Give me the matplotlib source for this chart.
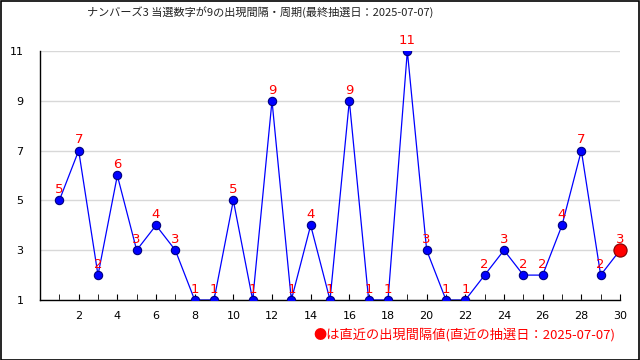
import matplotlib
matplotlib.use("Agg")
import matplotlib.pyplot as plt
from matplotlib.patches import Rectangle

plt.rcParams['font.family'] = ['Noto Sans CJK JP', 'DejaVu Sans']

draws = list(range(1, 31))
intervals = [5, 7, 2, 6, 3, 4, 3, 1, 1, 5, 1, 9, 1, 4, 1, 9, 1, 1, 11, 3, 1, 1, 2, 3, 2, 2, 4, 7, 2, 3]
title = "ナンバーズ3 当選数字が9の出現間隔・周期(最終抽選日：2025-07-07)"
note = "●は直近の出現間隔値(直近の抽選日：2025-07-07)"

fig = plt.figure(figsize=(6.4, 3.6), dpi=100)
fig.patches.append(Rectangle((0.001, 0.001), 0.997, 0.996, transform=fig.transFigure,
                             fill=False, edgecolor='black', linewidth=1.2))
ax = fig.add_axes([40/640, 60/360, 580/640, 249/360])

ax.plot(draws, intervals, color='blue', linewidth=0.9, zorder=2)
ax.plot(draws[:-1], intervals[:-1], 'o', color='blue', markeredgecolor='#000080',
        markersize=6, markeredgewidth=0.8, zorder=3)
ax.plot(draws[-1], intervals[-1], 'o', color='red', markeredgecolor='#800000',
        markersize=9.5, markeredgewidth=0.8, zorder=4, clip_on=False)

for x, y in zip(draws, intervals):
    ax.annotate(str(y), (x, y), xytext=(0, 3), textcoords='offset points',
                ha='center', va='bottom', color='red', fontsize=9.5,
                family=['DejaVu Sans'], annotation_clip=False)

ax.set_xlim(0, 30)
ax.set_ylim(1, 11)
ax.set_xticks(range(2, 31, 2))
ax.set_xticks(range(1, 31), minor=True)
ax.set_yticks([1, 3, 5, 7, 9, 11])
ax.tick_params(axis='x', which='both', direction='in', length=4, labelsize=8, pad=8)
ax.tick_params(axis='y', length=0, labelsize=8, pad=12)
for lbl in ax.get_xticklabels() + ax.get_yticklabels():
    lbl.set_family('DejaVu Sans')
ax.yaxis.grid(True, color='#d8d8d8', linewidth=1)
ax.set_axisbelow(True)
for s in ['top', 'right']:
    ax.spines[s].set_visible(False)
ax.spines['left'].set_linewidth(1)
ax.spines['bottom'].set_linewidth(1)

fig.text(260/640, 1 - 12/360, title, ha='center', va='center', fontsize=8, color='#222222')
fig.text(615/640, 1 - 335/360, note, ha='right', va='center', fontsize=9.5, color='red')

fig.savefig('out.png', dpi=100)
